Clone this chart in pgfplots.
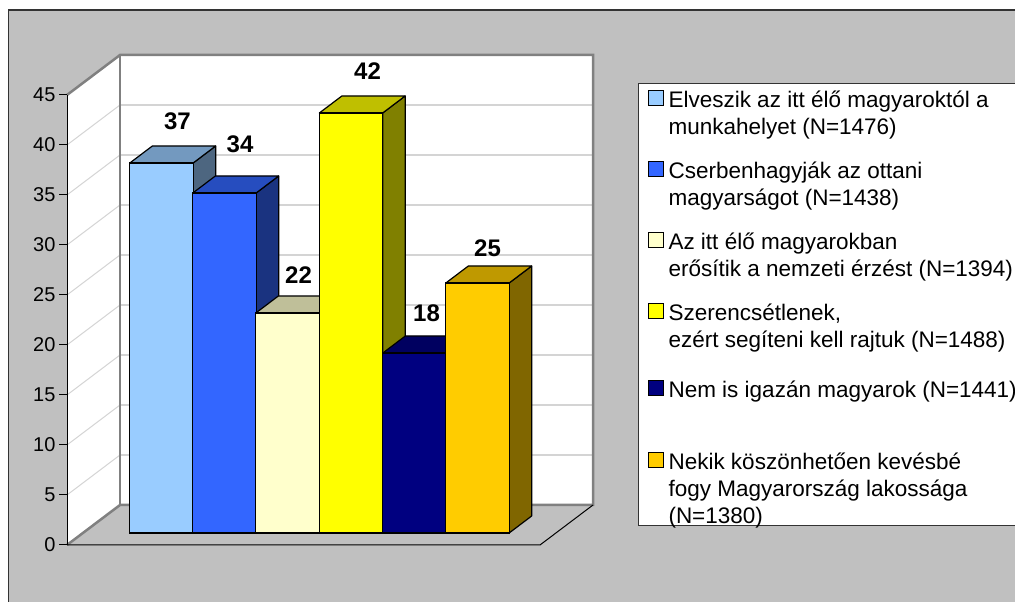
\documentclass[border=0pt]{standalone}
\usepackage{pgfplots}
\usepackage{pgfplotstable}
\pgfplotsset{compat=1.18}
\usepackage{fontspec}
\setmainfont{Liberation Sans}
\definecolor{bgc}{HTML}{C0C0C0}
\definecolor{gridc}{HTML}{D4D4D4}
\definecolor{wallc}{HTML}{808080}
\definecolor{fA}{HTML}{99CCFF}\definecolor{tA}{HTML}{7399BF}\definecolor{sA}{HTML}{4D6680}
\definecolor{fB}{HTML}{3366FF}\definecolor{tB}{HTML}{264DBF}\definecolor{sB}{HTML}{1A3380}
\definecolor{fC}{HTML}{FFFFCC}\definecolor{tC}{HTML}{BFBF99}\definecolor{sC}{HTML}{808066}
\definecolor{fD}{HTML}{FFFF00}\definecolor{tD}{HTML}{BFBF00}\definecolor{sD}{HTML}{808000}
\definecolor{fE}{HTML}{000080}\definecolor{tE}{HTML}{000060}\definecolor{sE}{HTML}{000040}
\definecolor{fF}{HTML}{FFCC00}\definecolor{tF}{HTML}{BF9900}\definecolor{sF}{HTML}{806600}

% corners of a depth face: p along the face, q into depth
\pgfplotstableread{
p q
0 0
0 1
1 1
1 0
}\corners

% #1 x centre, #2 value, #3 front, #4 top, #5 side, #6 xshift, #7 yshift of label
\newcommand\threedbar[7]{%
\addplot[forget plot, fill=#5, draw=black, line width=1.2pt, line join=round]
  table[x expr={#1+31.65+\thisrow{q}*22.5}, y expr={\thisrow{p}*#2+\thisrow{q}*1.7}] {\corners} -- cycle;
\addplot[forget plot, fill=#4, draw=black, line width=1.2pt, line join=round]
  table[x expr={#1-31.65+\thisrow{p}*63.3+\thisrow{q}*22.5}, y expr={#2+\thisrow{q}*1.7}] {\corners} -- cycle;
\addplot[ybar, bar width=63.3, bar shift=0pt, fill=#3, draw=black, line width=1.2pt,
  nodes near coords,
  every node near coord/.append style={font=\bfseries\fontsize{24}{24}\selectfont,
    anchor=center, xshift=#6, yshift=#7, text=black}]
  coordinates {(#1,#2)};}

\begin{document}
\begin{tikzpicture}
\path[use as bounding box, clip] (0,0) rectangle (1015pt,602pt);
% ---------- frame, walls, floor (front-plane units)
\begin{axis}[x=1pt, y=10pt, xmin=0, xmax=1015, ymin=-5.7, ymax=54.5,
  hide axis, clip=false, at={(0pt,0pt)}, anchor=south west]
\addplot[fill=bgc, draw=none] coordinates {(8,-7) (8,53.5) (1020,53.5) (1020,-7)} -- cycle;
\addplot[draw=black!80, line width=1.3pt] coordinates {(8.5,-7) (8.5,53.5) (1020,53.5)};
\addplot[fill=white, draw=none] coordinates {(67,0) (120,4) (120,49) (67,45)} -- cycle;
\addplot[fill=white, draw=none] coordinates {(120,4) (593,4) (593,49) (120,49)} -- cycle;
% grid lines, back wall
\addplot[draw=gridc, line width=1.3pt] coordinates {(120,9) (593,9)};
\addplot[draw=gridc, line width=1.3pt] coordinates {(120,14) (593,14)};
\addplot[draw=gridc, line width=1.3pt] coordinates {(120,19) (593,19)};
\addplot[draw=gridc, line width=1.3pt] coordinates {(120,24) (593,24)};
\addplot[draw=gridc, line width=1.3pt] coordinates {(120,29) (593,29)};
\addplot[draw=gridc, line width=1.3pt] coordinates {(120,34) (593,34)};
\addplot[draw=gridc, line width=1.3pt] coordinates {(120,39) (593,39)};
\addplot[draw=gridc, line width=1.3pt] coordinates {(120,44) (593,44)};
% grid lines, side wall
\addplot[draw=gridc, line width=1pt] coordinates {(67,5) (120,9)};
\addplot[draw=gridc, line width=1pt] coordinates {(67,10) (120,14)};
\addplot[draw=gridc, line width=1pt] coordinates {(67,15) (120,19)};
\addplot[draw=gridc, line width=1pt] coordinates {(67,20) (120,24)};
\addplot[draw=gridc, line width=1pt] coordinates {(67,25) (120,29)};
\addplot[draw=gridc, line width=1pt] coordinates {(67,30) (120,34)};
\addplot[draw=gridc, line width=1pt] coordinates {(67,35) (120,39)};
\addplot[draw=gridc, line width=1pt] coordinates {(67,40) (120,44)};
% wall edges
\addplot[draw=wallc, line width=2.5pt] coordinates {(67,45) (120,49) (593,49) (593,4) (120,4) (67,0)};
\addplot[draw=wallc, line width=2.5pt] coordinates {(120,4) (120,49)};
% floor
\addplot[draw=black, line width=1pt] coordinates {(67,0) (540,0) (593,4)};
\end{axis}
% ---------- vertical axis
\begin{axis}[x=1pt, y=10pt, xmin=67, xmax=540, ymin=0, ymax=45,
  at={(67pt,57pt)}, anchor=south west,
  axis x line=none, axis y line*=left, xtick=\empty,
  ytick={0,5,...,45}, tick align=outside, major tick length=8pt,
  y axis line style={black, line width=1pt},
  ytick style={black, line width=1pt},
  yticklabel style={font=\fontsize{20}{24}\selectfont, text=black},
  /pgf/number format/assume math mode=true]
\end{axis}
% ---------- bars (bar-plane units)
\begin{axis}[x=1pt, y=10pt, xmin=0, xmax=1015, ymin=-6.9, ymax=53.3,
  hide axis, clip=false, at={(0pt,0pt)}, anchor=south west,
  /pgf/number format/assume math mode=true,
  legend image code/.code={\draw[#1, draw=black, line width=1pt] (0pt,2pt) rectangle (15pt,17pt);},
  legend style={at={(axis cs:638,45)}, anchor=north west, draw=black!80, line width=1pt,
    fill=white, font=\fontsize{22.5}{27}\selectfont,
    cells={anchor=base west},
    nodes={inner xsep=5pt, inner ysep=0pt},
    row sep=17pt, column sep=0pt, inner xsep=9pt, inner ysep=0pt}]
\threedbar{161.5}{37}{fA}{tA}{sA}{16pt}{42pt}
\addlegendentry[text depth=35.1pt]{\parbox[t]{360pt}{\rule{0pt}{24pt}Elveszik az itt élő magyaroktól a\\munkahelyet (N=1476)\strut}}
\threedbar{224.5}{34}{fB}{tB}{sB}{15.5pt}{48.5pt}
\addlegendentry[text depth=35.1pt]{\parbox[t]{360pt}{\strut Cserbenhagyják az ottani\\magyarságot (N=1438)\strut}}
\threedbar{287.5}{22}{fC}{tC}{sC}{11pt}{37.7pt}
\addlegendentry[text depth=35.1pt]{\parbox[t]{360pt}{\strut Az itt élő magyarokban\\erősítik a nemzeti érzést (N=1394)\strut}}
\threedbar{351}{42}{fD}{tD}{sD}{16.5pt}{42pt}
\addlegendentry[text depth=35.1pt]{\parbox[t]{360pt}{\strut Szerencsétlenek,\\ezért segíteni kell rajtuk (N=1488)\strut}}
\threedbar{414.5}{18}{fE}{tE}{sE}{12pt}{40pt}
\addlegendentry[text depth=36pt]{\parbox[t]{360pt}{\rule[-36pt]{0pt}{61pt}Nem is igazán magyarok (N=1441)}}
\threedbar{477.5}{25}{fF}{tF}{sF}{10pt}{34.3pt}
\addlegendentry[text depth=56pt]{\parbox[t]{360pt}{\strut Nekik köszönhetően kevésbé\\fogy Magyarország lakossága\\(N=1380)}}
\end{axis}
\end{tikzpicture}
\end{document}
